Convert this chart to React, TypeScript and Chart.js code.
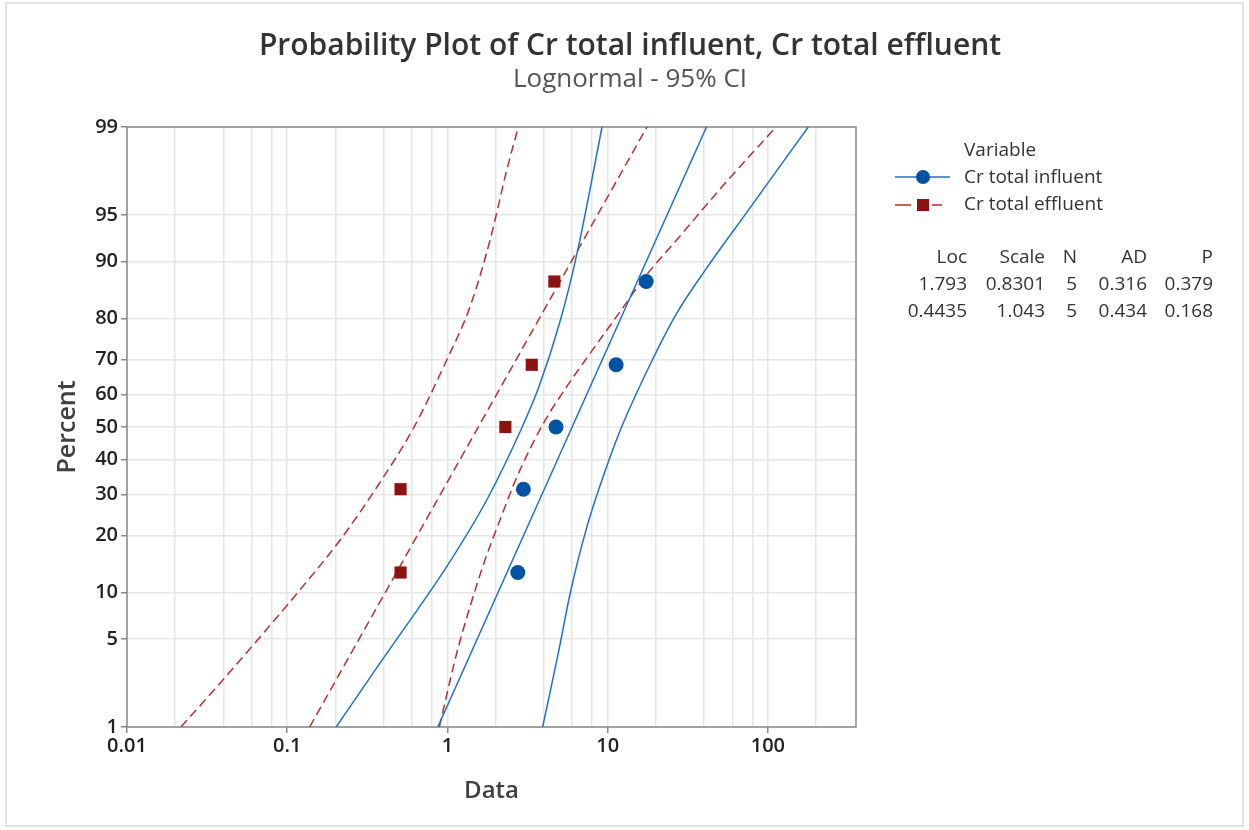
import React, { useEffect, useRef } from "react";
import { Chart, registerables, Scale } from "chart.js";

// ---------------- data ----------------
const PCT_TICKS = [1, 5, 10, 20, 30, 40, 50, 60, 70, 80, 90, 95, 99];
const X_GRID = [0.01, 0.02, 0.04, 0.06, 0.08, 0.1, 0.2, 0.4, 0.6, 0.8, 1, 2, 4, 6, 8, 10, 20, 40, 60, 80, 100, 200];
const X_LABELS = [0.01, 0.1, 1, 10, 100];

const PERCENTS = [12.96, 31.48, 50, 68.52, 87.04];
const INFLUENT = [2.75, 2.98, 4.76, 11.3, 17.4];
const EFFLUENT = [0.51, 0.51, 2.3, 3.36, 4.65];

const FIT_P = [1, 99];
const INF_FIT_X = [0.871, 41.4];
const EFF_FIT_X = [0.138, 17.6];

const INF_LO_X = [0.202, 0.38, 0.548, 0.99, 1.76, 2.91, 3.73, 5.07, 6.44, 9.23];
const INF_LO_P = [1, 3.37, 6.08, 13.94, 28.57, 49.7, 62.3, 79.6, 91.09, 99];
const INF_HI_X = [3.93, 4.92, 5.84, 7.43, 10.03, 12.37, 19.0, 26.97, 40.67, 75.6, 178.7];
const INF_HI_P = [1, 3.97, 9.87, 21.98, 38.92, 50.6, 69.83, 81.09, 88.82, 95.37, 99];

const EFF_LO_X = [0.0217, 0.0381, 0.0709, 0.12, 0.214, 0.37, 0.613, 0.99, 1.384, 1.845, 2.346, 2.77];
const EFF_LO_P = [1, 2.35, 5.49, 10.32, 19.05, 32.65, 49.6, 69.83, 82.45, 92.64, 97.68, 99];
const EFF_HI_X = [0.89, 1.143, 1.384, 1.717, 2.129, 2.719, 3.97, 5.555, 7.77, 11.95, 17.12, 26.92, 54.06, 112.5];
const EFF_HI_P = [1, 3.97, 8.18, 15.13, 23.55, 35.0, 51.1, 62.3, 71.6, 81.43, 87.8, 92.64, 97.06, 99];

const SERIES_NAMES = ["Cr total influent", "Cr total effluent"];
const STAT_HEADERS = ["Loc", "Scale", "N", "AD", "P"];
const STAT_INF = ["1.793", "0.8301", "5", "0.316", "0.379"];
const STAT_EFF = ["0.4435", "1.043", "5", "0.434", "0.168"];

const TITLE = "Probability Plot of Cr total influent, Cr total effluent";
const SUBTITLE = "Lognormal - 95% CI";

// ---------------- styles ----------------
const FONT = '"Open Sans", "Noto Sans", sans-serif';
const BLUE_MARK = "#0052a5";
const BLUE_LINE = "#1f6fcc";
const RED_MARK = "#8e1212";
const RED_LINE = "#b3302f";

// ---------------- normal probability scale ----------------
function probit(p: number): number {
  const a = [-3.969683028665376e1, 2.209460984245205e2, -2.759285104469687e2, 1.38357751867269e2, -3.066479806614716e1, 2.506628277459239];
  const b = [-5.447609879822406e1, 1.615858368580409e2, -1.556989798598866e2, 6.680131188771972e1, -1.328068155288572e1];
  const c = [-7.784894002430293e-3, -3.223964580411365e-1, -2.400758277161838, -2.549732539343734, 4.374664141464968, 2.938163982698783];
  const d = [7.784695709041462e-3, 3.224671290700398e-1, 2.445134137142996, 3.754408661907416];
  const pl = 0.02425;
  if (p < pl) {
    const q = Math.sqrt(-2 * Math.log(p));
    return (((((c[0] * q + c[1]) * q + c[2]) * q + c[3]) * q + c[4]) * q + c[5]) / ((((d[0] * q + d[1]) * q + d[2]) * q + d[3]) * q + 1);
  }
  if (p <= 1 - pl) {
    const q = p - 0.5, r = q * q;
    return ((((((a[0] * r + a[1]) * r + a[2]) * r + a[3]) * r + a[4]) * r + a[5]) * q) / (((((b[0] * r + b[1]) * r + b[2]) * r + b[3]) * r + b[4]) * r + 1);
  }
  const q = Math.sqrt(-2 * Math.log(1 - p));
  return -(((((c[0] * q + c[1]) * q + c[2]) * q + c[3]) * q + c[4]) * q + c[5]) / ((((d[0] * q + d[1]) * q + d[2]) * q + d[3]) * q + 1);
}
function normCdf(z: number): number {
  const t = 1 / (1 + 0.2316419 * Math.abs(z));
  const dd = 0.3989423 * Math.exp((-z * z) / 2);
  const pr = dd * t * (0.3193815 + t * (-0.3565638 + t * (1.781478 + t * (-1.821256 + t * 1.330274))));
  return z > 0 ? 1 - pr : pr;
}

class ProbitScale extends (Scale as any) {
  static id = "probit";
  static defaults = {};
  _zmin = 0;
  _zmax = 1;
  determineDataLimits() {
    this.min = this.options.min ?? 1;
    this.max = this.options.max ?? 99;
  }
  buildTicks() {
    return PCT_TICKS.map((v) => ({ value: v }));
  }
  configure() {
    super.configure();
    this._zmin = probit(this.min / 100);
    this._zmax = probit(this.max / 100);
  }
  getLabelForValue(v: number) {
    return String(v);
  }
  getPixelForValue(v: number) {
    const p = Math.min(Math.max(v / 100, 1e-7), 1 - 1e-7);
    return this.getPixelForDecimal((probit(p) - this._zmin) / (this._zmax - this._zmin));
  }
  getPixelForTick(i: number) {
    return this.getPixelForValue(this.ticks[i].value);
  }
  getValueForPixel(px: number) {
    const z = this._zmin + this.getDecimalForPixel(px) * (this._zmax - this._zmin);
    return normCdf(z) * 100;
  }
}

Chart.register(...registerables, ProbitScale as any);

const pts = (xs: number[], ps: number[]) => xs.map((x, i) => ({ x, y: ps[i] }));

const decorPlugin = {
  id: "decor",
  beforeDatasetsDraw(chart: any) {
    const { ctx, chartArea: a } = chart;
    ctx.save();
    ctx.strokeStyle = "#8a8a8a";
    ctx.lineWidth = 1.5;
    ctx.strokeRect(a.left, a.top, a.right - a.left, a.bottom - a.top);
    ctx.restore();
  },
  afterDraw(chart: any) {
    const { ctx } = chart;
    ctx.save();
    // outer frame
    ctx.strokeStyle = "#e2e2e2";
    ctx.lineWidth = 2;
    ctx.strokeRect(6, 3, 1237, 823);

    // title
    ctx.textAlign = "center";
    ctx.textBaseline = "middle";
    ctx.fillStyle = "#333333";
    ctx.font = `600 30px ${FONT}`;
    ctx.fillText(TITLE, 630, 46);
    ctx.fillStyle = "#555555";
    ctx.font = `400 26px ${FONT}`;
    ctx.fillText(SUBTITLE, 630, 80);

    // legend
    ctx.textAlign = "left";
    ctx.fillStyle = "#333333";
    ctx.font = `400 19px ${FONT}`;
    ctx.fillText("Variable", 964, 151);
    ctx.fillText(SERIES_NAMES[0], 964, 178);
    ctx.fillText(SERIES_NAMES[1], 964, 205);

    ctx.strokeStyle = BLUE_LINE;
    ctx.lineWidth = 1.5;
    ctx.beginPath();
    ctx.moveTo(895, 177);
    ctx.lineTo(950, 177);
    ctx.stroke();
    ctx.fillStyle = BLUE_MARK;
    ctx.beginPath();
    ctx.arc(923, 177, 7, 0, Math.PI * 2);
    ctx.fill();

    ctx.strokeStyle = RED_LINE;
    ctx.beginPath();
    ctx.moveTo(895, 205);
    ctx.lineTo(911, 205);
    ctx.moveTo(932, 205);
    ctx.lineTo(942, 205);
    ctx.stroke();
    ctx.fillStyle = RED_MARK;
    ctx.fillRect(917, 199, 12, 12);

    // stats table
    ctx.textAlign = "right";
    ctx.fillStyle = "#333333";
    const cols = [967, 1045, 1077, 1147, 1213];
    const rows = [STAT_HEADERS, STAT_INF, STAT_EFF];
    rows.forEach((row, r) => {
      row.forEach((txt, c) => ctx.fillText(txt, cols[c], 258 + r * 27));
    });
    ctx.restore();
  },
};

const curve = (label: string, xs: number[], ps: number[], color: string, dashed: boolean) => ({
  label,
  data: pts(xs, ps),
  showLine: true,
  pointRadius: 0,
  cubicInterpolationMode: "monotone",
  borderColor: color,
  borderWidth: 1.5,
  borderDash: dashed ? [9, 5] : [],
});

export default function App() {
  const ref = useRef<HTMLCanvasElement | null>(null);
  useEffect(() => {
    if (!ref.current) return;
    const chart = new Chart(ref.current, {
      type: "scatter",
      data: {
        datasets: [
          {
            label: SERIES_NAMES[0],
            data: pts(INFLUENT, PERCENTS),
            pointStyle: "circle",
            pointRadius: 7.5,
            backgroundColor: BLUE_MARK,
            borderColor: BLUE_MARK,
            borderWidth: 0,
            showLine: false,
          },
          {
            label: SERIES_NAMES[1],
            data: pts(EFFLUENT, PERCENTS),
            pointStyle: "rect",
            pointRadius: 8.6,
            backgroundColor: RED_MARK,
            borderColor: RED_MARK,
            borderWidth: 0,
            showLine: false,
          },
          curve("inf fit", INF_FIT_X, FIT_P, BLUE_LINE, false),
          curve("inf lower", INF_LO_X, INF_LO_P, BLUE_LINE, false),
          curve("inf upper", INF_HI_X, INF_HI_P, BLUE_LINE, false),
          curve("eff fit", EFF_FIT_X, FIT_P, RED_LINE, true),
          curve("eff lower", EFF_LO_X, EFF_LO_P, RED_LINE, true),
          curve("eff upper", EFF_HI_X, EFF_HI_P, RED_LINE, true),
        ] as any,
      },
      options: {
        responsive: false,
        animation: false,
        layout: { padding: { top: 127, right: 393, left: 0, bottom: 0 } },
        plugins: {
          legend: { display: false },
          title: { display: false },
          tooltip: { enabled: false },
        },
        scales: {
          x: {
            type: "logarithmic",
            min: 0.01,
            max: 355,
            afterFit: (s: any) => {
              s.height = 103;
            },
            afterBuildTicks: (s: any) => {
              s.ticks = X_GRID.map((v) => ({ value: v }));
            },
            ticks: {
              autoSkip: false,
              maxRotation: 0,
              padding: 1,
              color: "#222222",
              font: { family: FONT, size: 20, weight: "600" },
              callback: (v: any) => (X_LABELS.includes(Number(v)) ? String(v) : ""),
            },
            grid: {
              color: "#e6e6e6",
              lineWidth: 1.5,
              tickLength: 6,
              tickColor: (c: any) => (c.tick && X_LABELS.includes(c.tick.value) ? "#8a8a8a" : "rgba(0,0,0,0)"),
            },
            border: { display: false },
            title: {
              display: true,
              text: "Data",
              color: "#404040",
              font: { family: FONT, size: 24, weight: "600" },
              padding: { top: 0, bottom: 24 },
            },
          },
          y: {
            type: "probit" as any,
            min: 1,
            max: 99,
            afterFit: (s: any) => {
              s.width = 127;
            },
            ticks: {
              padding: 3,
              color: "#222222",
              font: { family: FONT, size: 20, weight: "600" },
              callback: (v: any) => String(v),
            },
            grid: {
              color: "#e6e6e6",
              lineWidth: 1.5,
              tickLength: 6,
              tickColor: "#8a8a8a",
            },
            border: { display: false },
            title: {
              display: true,
              text: "Percent",
              color: "#404040",
              font: { family: FONT, size: 25, weight: "600" },
              padding: { top: 53, bottom: 0 },
            },
          } as any,
        },
      },
      plugins: [decorPlugin],
    } as any);
    return () => chart.destroy();
  }, []);
  return (
    <div style={{ position: "absolute", left: 0, top: 0, width: 1249, height: 830, background: "#fff" }}>
      <canvas ref={ref} width={1249} height={830} style={{ display: "block" }} />
    </div>
  );
}
